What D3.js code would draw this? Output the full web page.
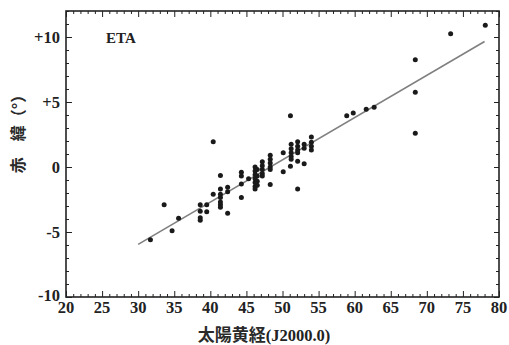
<!DOCTYPE html>
<html>
<head>
<meta charset="utf-8">
<script src="https://cdn.jsdelivr.net/npm/d3@7/dist/d3.min.js"></script>
<style>
  html, body { margin: 0; padding: 0; background: #fff; }
  svg { display: block; }
  .lbl { font-family: "Liberation Serif", "Times New Roman", serif; font-weight: bold; fill: #222; }
  .cjk { font-family: "Noto Sans CJK JP", "Noto Sans CJK SC", sans-serif; font-weight: bold; fill: #2a2a2a; }
</style>
</head>
<body>
<script>
// ---- data ----
const xTicks = [20, 25, 30, 35, 40, 45, 50, 55, 60, 65, 70, 75, 80];
const yTicks = [-10, -5, 0, 5, 10];
const yTickLabels = ["-10", "-5", "0", "+5", "+10"];
const solarLongitude = [
  31.7, 33.6, 34.7, 35.6,
  38.6, 38.6, 38.6, 38.6, 39.5, 39.5,
  40.4, 40.4,
  41.4, 41.4, 41.4, 41.4, 41.4, 41.4, 41.4,
  42.4, 42.4, 42.4,
  44.3, 44.3, 44.3, 44.3, 45.3,
  46.2, 46.2, 46.2, 46.2, 46.2, 46.2, 46.2,
  46.5, 46.5, 46.5, 46.5,
  47.2, 47.2, 47.2, 47.2, 47.2,
  48.3, 48.3, 48.3, 48.3, 48.3, 48.3,
  50.1, 50.1,
  51.1, 51.2, 51.2, 51.2, 51.2, 51.2, 51.1,
  52.1, 52.1, 52.1, 52.1, 52.1, 52.1,
  53.0, 53.0, 53.0,
  54.0, 54.0, 54.0, 54.0,
  58.9, 59.8, 61.6, 62.7,
  68.4, 68.4, 68.4, 73.3, 78.1
];
const declination = [
  -5.6, -2.9, -4.9, -3.95,
  -2.9, -3.4, -3.9, -4.1, -2.9, -3.45,
  -2.1, 1.95,
  -0.65, -1.7, -2.1, -2.35, -2.7, -2.9, -3.1,
  -1.55, -1.9, -3.55,
  -0.4, -0.7, -1.3, -2.35, -0.9,
  0.0, -0.3, -0.6, -0.9, -1.2, -1.5, -1.7,
  -0.2, -0.7, -1.1, -1.4,
  0.4, 0.1, -0.2, -0.5, -0.7,
  0.9, 0.6, 0.3, 0.0, -0.2, -1.35,
  1.1, -0.36,
  3.95, 1.75, 1.4, 1.1, 0.8, 0.6, 0.05,
  1.95, 1.6, 1.3, 1.1, 0.45, -1.7,
  1.75, 1.45, 0.25,
  2.3, 1.9, 1.6, 1.3,
  3.95, 4.15, 4.45, 4.6,
  8.25, 5.75, 2.6, 10.25, 10.9
];
const fitLineX = [30, 78];
const fitLineY = [-5.95, 9.65];
const chartLabel = "ETA";
const xTitle = "太陽黄経(J2000.0)";
const yTitle = "赤　緯（°）";

// ---- chart ----
const W = 509, H = 345;
const svg = d3.select("body").append("svg").attr("width", W).attr("height", H);
const x = d3.scaleLinear().domain([20, 80]).range([66, 499]);
const y = d3.scaleLinear().domain([-10, 12]).range([297, 11]);

const majorLen = 6, minorLen = 3;
const xMinor = d3.range(20, 81, 1).filter(v => v % 5 !== 0);
const yMinor = d3.range(-10, 13, 1).filter(v => v % 5 !== 0);

function tickAxis(gen, scale, ticks, len, transform) {
  const g = svg.append("g").attr("transform", transform)
    .call(gen(scale).tickValues(ticks).tickSize(len).tickFormat(""));
  g.select(".domain").remove();
  g.selectAll("line").attr("stroke", "#222").attr("stroke-width", 1);
  return g;
}
// inward ticks on all four sides
tickAxis(d3.axisTop, x, xTicks, majorLen, `translate(0,${y.range()[0]})`);
tickAxis(d3.axisTop, x, xMinor, minorLen, `translate(0,${y.range()[0]})`);
tickAxis(d3.axisBottom, x, xTicks, majorLen, `translate(0,${y.range()[1]})`);
tickAxis(d3.axisBottom, x, xMinor, minorLen, `translate(0,${y.range()[1]})`);
tickAxis(d3.axisRight, y, yTicks, majorLen, `translate(${x.range()[0]},0)`);
tickAxis(d3.axisRight, y, yMinor, minorLen, `translate(${x.range()[0]},0)`);
tickAxis(d3.axisLeft, y, yTicks, majorLen - 1, `translate(${x.range()[1]},0)`);
tickAxis(d3.axisLeft, y, yMinor, minorLen, `translate(${x.range()[1]},0)`);

// frame
svg.append("rect")
  .attr("x", x.range()[0]).attr("y", y.range()[1])
  .attr("width", x.range()[1] - x.range()[0])
  .attr("height", y.range()[0] - y.range()[1])
  .attr("fill", "none").attr("stroke", "#222").attr("stroke-width", 1.6);

// x tick labels
svg.append("g").selectAll("text").data(xTicks).join("text")
  .attr("class", "lbl")
  .attr("x", d => x(d)).attr("y", 313)
  .attr("text-anchor", "middle").attr("font-size", 16.5)
  .text(d => d);

// y tick labels
svg.append("g").selectAll("text").data(yTicks).join("text")
  .attr("class", "lbl")
  .attr("x", 60).attr("y", (d, i) => y(d) + (d === -10 ? 4 : 6))
  .attr("text-anchor", "end").attr("font-size", 16.5)
  .text((d, i) => yTickLabels[i]);

// fit line
svg.append("path")
  .datum(fitLineX.map((v, i) => [v, fitLineY[i]]))
  .attr("d", d3.line().x(d => x(d[0])).y(d => y(d[1])))
  .attr("fill", "none").attr("stroke", "#808080").attr("stroke-width", 1.6);

// points
svg.append("g").selectAll("circle").data(solarLongitude).join("circle")
  .attr("cx", d => x(d)).attr("cy", (d, i) => y(declination[i]))
  .attr("r", 2.5).attr("fill", "#1a1a1a");

// ETA label
svg.append("text").attr("class", "lbl")
  .attr("x", 106).attr("y", 43).attr("font-size", 15).text(chartLabel);

// x title
svg.append("text").attr("class", "cjk")
  .attr("x", 264).attr("y", 341).attr("text-anchor", "middle")
  .attr("font-size", 17)
  .selectAll("tspan").data([xTitle.slice(0, 4), xTitle.slice(4)]).join("tspan")
  .attr("class", (d, i) => i === 1 ? "lbl" : "cjk")
  .attr("font-size", (d, i) => i === 1 ? 16.5 : 17)
  .text(d => d);

// y title
svg.append("text").attr("class", "cjk")
  .attr("transform", "translate(24,130) rotate(-90)")
  .attr("text-anchor", "middle").attr("font-size", 16)
  .text(yTitle);
</script>
</body>
</html>
